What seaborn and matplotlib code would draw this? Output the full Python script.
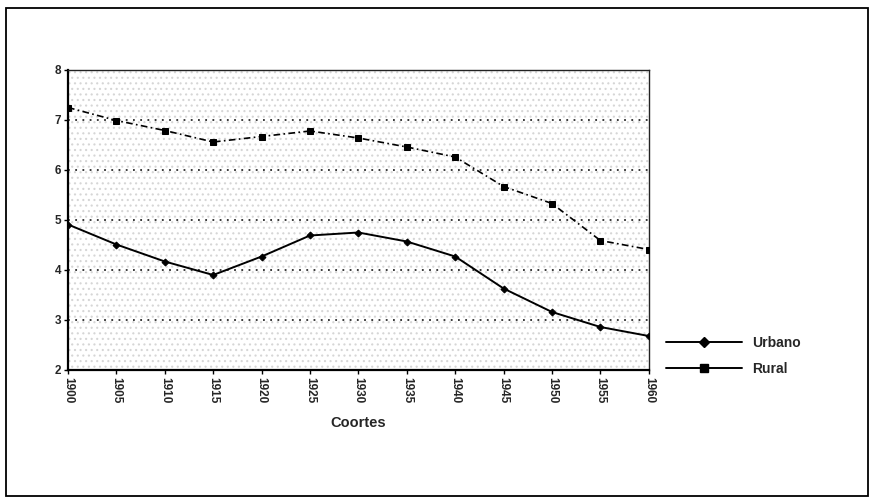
import matplotlib
matplotlib.use("Agg")
import matplotlib.pyplot as plt
from matplotlib.lines import Line2D
from matplotlib.patches import Rectangle
import seaborn as sns
import pandas as pd

years = [1900, 1905, 1910, 1915, 1920, 1925, 1930, 1935, 1940, 1945, 1950, 1955, 1960]
urbano = [4.91, 4.51, 4.17, 3.90, 4.27, 4.69, 4.75, 4.57, 4.27, 3.63, 3.16, 2.86, 2.68]
rural = [7.25, 6.99, 6.79, 6.56, 6.67, 6.78, 6.64, 6.46, 6.26, 5.67, 5.33, 4.59, 4.41]
series_names = ["Urbano", "Rural"]
y_ticks = [2, 3, 4, 5, 6, 7, 8]

sns.set_theme(style="white")
plt.rcParams["font.family"] = ["Liberation Sans", "DejaVu Sans"]
plt.rcParams["hatch.linewidth"] = 0.8

df = pd.DataFrame({"ano": years, "Urbano": urbano, "Rural": rural})

fig = plt.figure(figsize=(8.72, 5.0), dpi=100)
ax = fig.add_axes([0.078, 0.26, 0.666, 0.60])
ax.set_facecolor("white")

# stippled plot background
ax.add_patch(Rectangle((0, 0), 1, 1, transform=ax.transAxes, fill=False,
                       hatch="...", edgecolor="#d6d6d6", lw=0, zorder=0))

for y in y_ticks[1:-1]:
    ax.axhline(y, color="#2a2a2a", lw=1.3, ls=(0, (1, 3)), zorder=1)

sns.lineplot(data=df, x="ano", y="Urbano", ax=ax, color="black", lw=1.4,
             marker="D", markersize=3.5, markeredgecolor="black", zorder=3)
sns.lineplot(data=df, x="ano", y="Rural", ax=ax, color="black", lw=1.2,
             linestyle=(0, (4, 2, 1, 2)), marker="s", markersize=5,
             markeredgecolor="black", zorder=3)

ax.set_xlim(1900, 1960)
ax.set_ylim(2, 8)
ax.set_xticks(years)
ax.set_xticklabels([str(y) for y in years], rotation=-90, fontsize=8.5,
                   fontweight="bold")
ax.set_yticks(y_ticks)
ax.set_yticklabels([str(v) for v in y_ticks], fontsize=8.5, fontweight="bold")
ax.tick_params(axis="both", direction="out", length=3, width=1, color="black",
               bottom=True, left=True, pad=2)
ax.set_xlabel("Coortes", fontsize=10.5, fontweight="bold", labelpad=9)
ax.set_ylabel("")

for side in ["left", "bottom"]:
    ax.spines[side].set_linewidth(1.6)
    ax.spines[side].set_color("black")
for side in ["top", "right"]:
    ax.spines[side].set_linewidth(1.0)
    ax.spines[side].set_color("#222222")

handles = [
    Line2D([], [], color="black", lw=1.4, marker="D", markersize=5),
    Line2D([], [], color="black", lw=1.4, marker="s", markersize=6),
]
fig.legend(handles, series_names, loc="center left", bbox_to_anchor=(0.749, 0.288),
           frameon=False, handlelength=5.5, handletextpad=0.7, labelspacing=0.9,
           prop={"weight": "bold", "size": 10})

fig.patches.append(Rectangle((0.007, 0.008), 0.988, 0.976, transform=fig.transFigure,
                             fill=False, edgecolor="black", lw=1.3))

fig.savefig("out.png", dpi=100, facecolor="white")
